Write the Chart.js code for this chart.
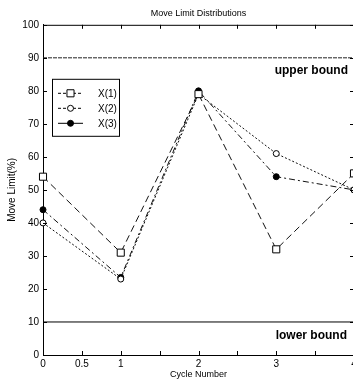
<!DOCTYPE html>
<html><head><meta charset="utf-8">
<script src="https://cdn.jsdelivr.net/npm/chart.js@4"></script>
<style>
html,body{margin:0;padding:0;background:#fff;overflow:hidden;width:353px;height:390px}
#wrap{width:360px;height:390px}
canvas{display:block}
</style></head><body><div id="wrap"><canvas id="c" width="360" height="390" style="width:360px;height:390px"></canvas></div>
<script>
const cycles = [0, 1, 2, 3, 4];
const x1 = [54, 31, 79, 32, 55];
const x2 = [40, 23, 79, 61, 50];
const x3 = [44, 23.5, 80, 54, 50];
const seriesLabels = ['X(1)', 'X(2)', 'X(3)'];
const boundX = [0, 4];
const upperBound = [90, 90];
const lowerBound = [10, 10];
const boundLabels = ['upper bound', 'lower bound'];
const xTickLabels = {0: '0', 0.5: '0.5', 1: '1', 2: '2', 3: '3', 4: '4'};
const titleText = 'Move Limit Distributions';
const xTitle = 'Cycle Number';
const yTitle = 'Move Limit(%)';

const NARROW = '"Liberation Sans Narrow","Arial Narrow","Liberation Sans",sans-serif';
const BOLD = '"Liberation Sans",Arial,sans-serif';

function pts(xs, ys) { return xs.map((v, i) => ({x: v, y: ys[i]})); }

const styles = [
  {dash: [7, 4], pointStyle: 'rect', radius: 5, fill: '#fff'},
  {dash: [2, 2], pointStyle: 'circle', radius: 3, fill: '#fff'},
  {dash: [6, 3, 2, 3], pointStyle: 'circle', radius: 3, fill: '#000'}
];
const seriesData = [x1, x2, x3];

const datasets = seriesData.map((d, i) => ({
  label: seriesLabels[i],
  data: pts(cycles, d),
  borderColor: '#111',
  borderWidth: 1,
  borderDash: styles[i].dash,
  pointStyle: styles[i].pointStyle,
  pointRadius: styles[i].radius,
  pointBackgroundColor: styles[i].fill,
  pointBorderColor: '#000',
  pointBorderWidth: 1,
  fill: false,
  tension: 0,
  clip: false
}));
datasets.push({label: boundLabels[0], data: pts(boundX, upperBound), borderColor: '#222', borderWidth: 1, borderDash: [4, 1], pointRadius: 0, fill: false});
datasets.push({label: boundLabels[1], data: pts(boundX, lowerBound), borderColor: '#000', borderWidth: 1, pointRadius: 0, fill: false});

function drawMarker(ctx, st, x, y) {
  ctx.save();
  ctx.setLineDash([]);
  ctx.fillStyle = st.fill; ctx.strokeStyle = '#000'; ctx.lineWidth = 1;
  ctx.beginPath();
  if (st.pointStyle === 'rect') {
    const s = st.radius * Math.SQRT1_2;
    ctx.rect(x - s, y - s, 2 * s, 2 * s);
  } else {
    ctx.arc(x, y, st.radius, 0, Math.PI * 2);
  }
  ctx.fill(); ctx.stroke();
  ctx.restore();
}

const deco = {
  id: 'deco',
  afterDraw(chart) {
    const {ctx, chartArea: a, scales: {x, y}} = chart;
    ctx.save();
    ctx.strokeStyle = '#000'; ctx.lineWidth = 1;
    ctx.beginPath();
    ctx.moveTo(a.left, a.top + 0.5); ctx.lineTo(a.right, a.top + 0.5);
    ctx.moveTo(a.right - 0.5, a.top); ctx.lineTo(a.right - 0.5, a.bottom);
    x.ticks.forEach(t => {
      const px = Math.round(x.getPixelForValue(t.value)) + 0.5;
      ctx.moveTo(px, a.bottom); ctx.lineTo(px, a.bottom - 4);
      ctx.moveTo(px, a.top); ctx.lineTo(px, a.top + 4);
    });
    y.ticks.forEach(t => {
      const py = Math.round(y.getPixelForValue(t.value)) + 0.5;
      ctx.moveTo(a.left, py); ctx.lineTo(a.left + 4, py);
      ctx.moveTo(a.right, py); ctx.lineTo(a.right - 4, py);
    });
    ctx.stroke();

    // bound labels
    ctx.fillStyle = '#000';
    ctx.font = 'bold 12px ' + BOLD;
    ctx.textAlign = 'right'; ctx.textBaseline = 'middle';
    ctx.fillText(boundLabels[0], 348, y.getPixelForValue(upperBound[0]) + 13);
    ctx.fillText(boundLabels[1], 347, y.getPixelForValue(lowerBound[0]) + 14);

    // legend
    const lx = a.left + 9, ly = a.top + 54, lw = 67, lh = 57;
    ctx.fillStyle = '#fff';
    ctx.fillRect(lx, ly, lw, lh);
    ctx.strokeStyle = '#000';
    ctx.strokeRect(lx + 0.5, ly + 0.5, lw, lh);
    ctx.font = '10px ' + NARROW;
    ctx.textAlign = 'left';
    seriesLabels.forEach((lab, i) => {
      const yy = ly + 14 + i * 15;
      ctx.save();
      ctx.setLineDash(styles[i].dash.length === 4 ? [] : [3, 2]);
      ctx.beginPath();
      ctx.moveTo(lx + 6, yy + 0.5); ctx.lineTo(lx + 31, yy + 0.5);
      ctx.stroke();
      ctx.restore();
      drawMarker(ctx, styles[i], lx + 18.5, yy + 0.5);
      ctx.fillStyle = '#000';
      ctx.fillText(lab, lx + 46, yy + 1);
    });
    ctx.restore();
  }
};

new Chart(document.getElementById('c'), {
  type: 'line',
  data: {datasets},
  options: {
    responsive: false,
    animation: false,
    events: [],
    layout: {padding: {left: 0, right: 4, top: 0, bottom: 0}},
    plugins: {
      legend: {display: false},
      tooltip: {enabled: false},
      title: {display: true, text: titleText, fullSize: false, color: '#000',
        font: {family: NARROW, size: 9, weight: 'normal', lineHeight: 1.2},
        padding: {top: 8, bottom: 6}}
    },
    scales: {
      x: {
        type: 'linear', min: 0, max: 4,
        grid: {display: false, drawTicks: false},
        border: {display: true, color: '#000', width: 1},
        ticks: {stepSize: 0.5, autoSkip: false, maxRotation: 0, padding: 3, color: '#000',
          font: {family: NARROW, size: 10},
          callback: v => (xTickLabels[v] !== undefined ? xTickLabels[v] : '')},
        title: {display: true, text: xTitle, color: '#000', font: {family: NARROW, size: 9, lineHeight: 1.2}, padding: {top: 0, bottom: 10}},
        afterFit: s => { s.height = 35; }
      },
      y: {
        min: 0, max: 100,
        grid: {display: false, drawTicks: false},
        border: {display: true, color: '#000', width: 1},
        ticks: {stepSize: 10, padding: 4, color: '#000', font: {family: NARROW, size: 10}},
        title: {display: true, text: yTitle, color: '#000', font: {family: NARROW, size: 10, lineHeight: 1.2}, padding: {top: 6, bottom: 0}},
        afterFit: s => { s.width = 43; }
      }
    }
  },
  plugins: [deco]
});
</script>
</body></html>
